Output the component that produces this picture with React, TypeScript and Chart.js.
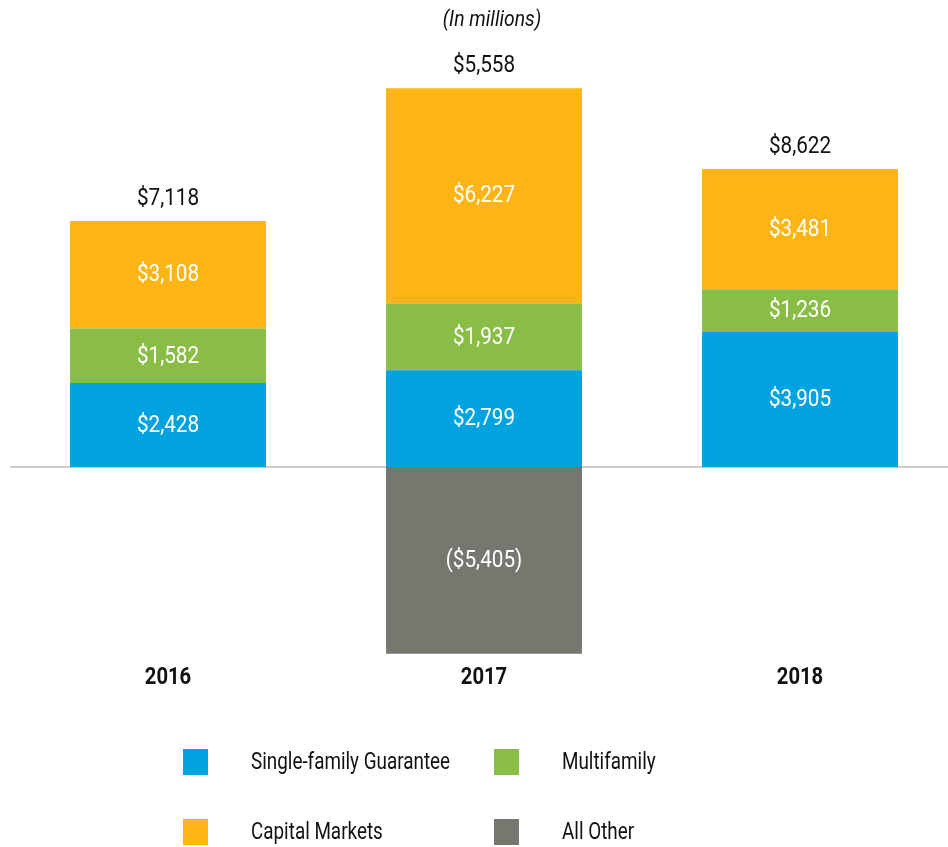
import React, { useEffect, useRef } from "react";
import { Chart, registerables } from "chart.js";
Chart.register(...registerables);

const categories = ["2016", "2017", "2018"];
const singleFamily = [2428, 2799, 3905];
const multifamily = [1582, 1937, 1236];
const capitalMarkets = [3108, 6227, 3481];
const allOther = [null, -5405, null];
const totals = [7118, 5558, 8622];
const seriesNames = ["Single-family Guarantee", "Multifamily", "Capital Markets", "All Other"];
const seriesColors = ["#00A3E0", "#8ABD45", "#FDB515", "#77776F"];
const subtitle = "(In millions)";

const FONT = 'Roboto, "Liberation Sans", sans-serif';

const fmt = (v: number) =>
  v < 0 ? `($${Math.abs(v).toLocaleString("en-US")})` : `$${v.toLocaleString("en-US")}`;

function drawText(ctx: CanvasRenderingContext2D, text: string, x: number, y: number, sx: number, font: string, color: string, align: CanvasTextAlign = "center") {
  ctx.save();
  ctx.translate(x, y);
  ctx.scale(sx, 1);
  ctx.font = font;
  ctx.fillStyle = color;
  ctx.textAlign = align;
  ctx.textBaseline = "middle";
  ctx.fillText(text, 0, 0);
  ctx.restore();
}

const labelsPlugin = {
  id: "customLabels",
  beforeDatasetsDraw(chart: any) {
    const { ctx, chartArea, scales } = chart;
    const y0 = scales.y.getPixelForValue(0);
    ctx.save();
    ctx.strokeStyle = "#BBBBBB";
    ctx.lineWidth = 1.5;
    ctx.beginPath();
    ctx.moveTo(chartArea.left, y0);
    ctx.lineTo(chartArea.right, y0);
    ctx.stroke();
    ctx.restore();
  },
  afterDatasetsDraw(chart: any) {
    const { ctx, scales } = chart;
    const numFont = `23px ${FONT}`;
    // segment labels
    chart.data.datasets.forEach((ds: any, di: number) => {
      const meta = chart.getDatasetMeta(di);
      meta.data.forEach((bar: any, i: number) => {
        const v = ds.data[i];
        if (v === null || v === 0 || v === undefined) return;
        const cy = (bar.y + bar.base) / 2;
        drawText(ctx, fmt(v), bar.x, cy + 1, 0.9, numFont, "#FFFFFF");
      });
    });
    // totals and category labels
    categories.forEach((c, i) => {
      let top = Infinity;
      chart.data.datasets.forEach((ds: any, di: number) => {
        const v = ds.data[i];
        if (v !== null && v > 0) {
          const bar = chart.getDatasetMeta(di).data[i];
          top = Math.min(top, bar.y);
        }
      });
      const x = scales.x.getPixelForValue(i);
      drawText(ctx, fmt(totals[i]), x, top - 22, 0.9, numFont, "#111111");
      drawText(ctx, c, x, 678, 0.88, `bold 23px ${FONT}`, "#111111");
    });
    // subtitle
    drawText(ctx, subtitle, 492, 20, 0.88, `italic 22px ${FONT}`, "#111111");
    // legend
    const cols = [183, 494];
    const rows = [762, 832];
    chart.data.datasets.forEach((ds: any, di: number) => {
      const cx = cols[di % 2];
      const cy = rows[Math.floor(di / 2)];
      ctx.save();
      ctx.fillStyle = ds.backgroundColor;
      ctx.fillRect(cx, cy - 13, 25, 26);
      ctx.restore();
      drawText(ctx, ds.label, cx + 68, cy + 1, 0.82, `23px ${FONT}`, "#111111", "left");
    });
  },
};

export default function App() {
  const ref = useRef<HTMLCanvasElement | null>(null);
  useEffect(() => {
    if (!ref.current) return;
    const series = [singleFamily, multifamily, capitalMarkets, allOther];
    const chart = new Chart(ref.current, {
      type: "bar",
      data: {
        labels: categories,
        datasets: series.map((d, i) => ({
          label: seriesNames[i],
          data: d,
          backgroundColor: seriesColors[i],
          borderWidth: 0,
          stack: "s",
          categoryPercentage: 1,
          barPercentage: 0.62,
        })),
      },
      options: {
        responsive: false,
        animation: false,
        devicePixelRatio: 1,
        layout: { padding: { left: 10, right: 0, top: 0, bottom: 0 } },
        plugins: { legend: { display: false }, tooltip: { enabled: false }, title: { display: false } },
        scales: {
          x: { display: false, stacked: true, grid: { display: false } },
          y: { display: false, stacked: true, min: -10995, max: 13513, grid: { display: false } },
        },
      },
      plugins: [labelsPlugin],
    });
    return () => chart.destroy();
  }, []);
  return (
    <div style={{ position: "fixed", left: 0, top: 0, width: 948, height: 847, overflow: "hidden", background: "#fff" }}>
      <canvas ref={ref} width={958} height={847} style={{ display: "block" }} />
    </div>
  );
}
